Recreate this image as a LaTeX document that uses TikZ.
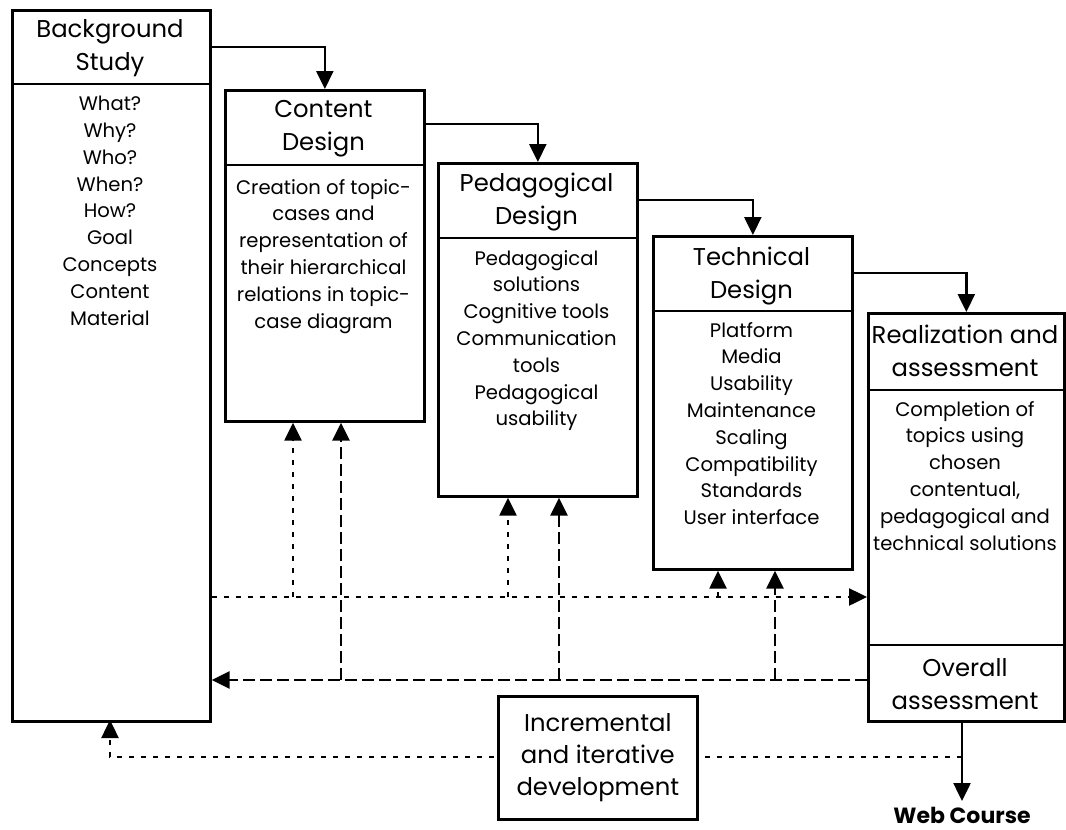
\documentclass[tikz,border=0pt]{standalone}
\usepackage{fontspec}
\setmainfont{Poppins}
\usetikzlibrary{arrows.meta}
\begin{document}
\begin{tikzpicture}[x=1pt,y=-1pt,
  box/.style={draw=black, line width=2.7pt, fill=white, anchor=north west, inner sep=0pt},
  ttl/.style={align=center, font=\fontsize{24.3}{33}\selectfont, inner sep=0pt},
  bdy/.style={align=center, font=\fontsize{19.6}{26.8}\selectfont, inner sep=0pt, anchor=north},
  tip/.style={-{Triangle[length=18pt,width=17pt]}},
  flow/.style={line width=2.5pt, tip},
  dotl/.style={line width=2.5pt, dash pattern=on 5pt off 7pt},
  dashl/.style={line width=2.7pt, dash pattern=on 12pt off 5pt},
  divl/.style={line width=2.7pt}
]
\useasboundingbox[fill=white] (0,0) rectangle (1066,830);

% boxes
\node[box, minimum width=198pt, minimum height=711pt] (bs) at (11,9) {};
\node[box, minimum width=199pt, minimum height=331pt] (cd) at (224,89) {};
\node[box, minimum width=199pt, minimum height=333pt] (pd) at (437,162) {};
\node[box, minimum width=199pt, minimum height=333pt] (td) at (652,235) {};
\node[box, minimum width=196pt, minimum height=408pt] (rz) at (867,312) {};

% dividers
\draw[divl] (bs.west |- 0,84) -- (bs.east |- 0,84);
\draw[divl] (cd.west |- 0,165) -- (cd.east |- 0,165);
\draw[divl] (pd.west |- 0,238) -- (pd.east |- 0,238);
\draw[divl] (td.west |- 0,311) -- (td.east |- 0,311);
\draw[divl] (rz.west |- 0,390) -- (rz.east |- 0,390);
\draw[divl] (rz.west |- 0,645) -- (rz.east |- 0,645);

% titles
\node[ttl] (bst) at (110,48) {Background\\Study};
\node[ttl] (cdt) at (323.5,129) {Content\\Design};
\node[ttl] (pdt) at (536.5,202) {Pedagogical\\Design};
\node[ttl] (tdt) at (751.5,276) {Technical\\Design};
\node[ttl] (rzt) at (965,351) {Realization and\\assessment};
\node[ttl] (oat) at (965,684) {Overall\\assessment};

% bodies
\node[bdy] (bsb) at (110,96) {What?\\Why?\\Who?\\When?\\How?\\Goal\\Concepts\\Content\\Material};
\node[bdy] (cdb) at (323.5,179) {Creation of topic-\\cases and\\representation of\\their hierarchical\\relations in topic-\\case diagram};
\node[bdy] (pdb) at (536.5,250) {Pedagogical\\solutions\\Cognitive tools\\Communication\\tools\\Pedagogical\\usability};
\node[bdy] (tdb) at (751.5,322) {Platform\\Media\\Usability\\Maintenance\\Scaling\\Compatibility\\Standards\\User interface};
\node[bdy] (rzb) at (965,401) {Completion of\\topics using\\chosen\\contentual,\\pedagogical and\\technical solutions};

% forward arrows
\draw[flow] (bs.north east) ++(0,38) -| (cd.north);
\draw[flow] (cd.north east) ++(0,35) -| (pd.north);
\draw[flow] (pd.north east) ++(0,38) -| (td.north);
\draw[flow] (td.north east) ++(0,38) -| (rz.north);

% dotted feedback
\coordinate (dy) at (0,597);
\coordinate (d1) at (293,597);
\coordinate (d2) at (508,597);
\coordinate (d3) at (718,597);
\draw[dotl, tip] (bs.east |- dy) -- (rz.west |- dy);
\draw[dotl, tip] (d1) -- (d1 |- cd.south);
\draw[dotl, tip] (d2) -- (d2 |- pd.south);
\draw[dotl, tip] (d3) -- (d3 |- td.south);

% dashed feedback
\coordinate (ey) at (0,680);
\coordinate (e1) at (341,680);
\coordinate (e2) at (559,680);
\coordinate (e3) at (775,680);
\draw[dashl, tip] (rz.west |- ey) -- (bs.east |- ey);
\draw[dashl, tip] (e1) -- (e1 |- cd.south);
\draw[dashl, tip] (e2) -- (e2 |- pd.south);
\draw[dashl, tip] (e3) -- (e3 |- td.south);

% bottom loop
\coordinate (lr) at (962,757);
\coordinate (lb) at (110,720);
\draw[dotl, tip] (lr) -| (lb);

% incremental box
\node[box, minimum width=199pt, minimum height=123pt] (inc) at (497,695) {};
\node[ttl, font=\fontsize{24.3}{32}\selectfont] (inct) at (inc.center) {Incremental\\and iterative\\development};

% web course
\coordinate (wt) at (962,720);
\coordinate (wb) at (962,801);
\node[inner sep=0pt, font=\fontsize{22}{26}\bfseries\selectfont] (web) at (962,815) {Web Course};
\draw[flow] (wt) -- (wb);
\end{tikzpicture}
\end{document}
